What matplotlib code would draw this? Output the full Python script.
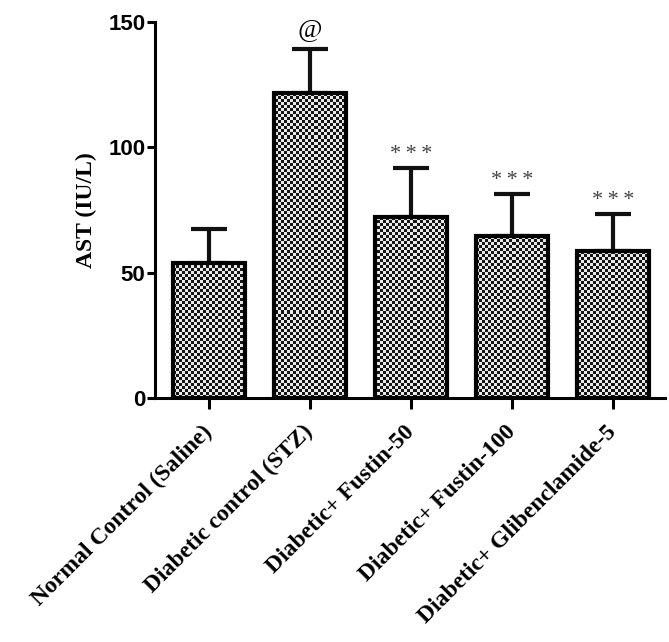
import numpy as np
import matplotlib
matplotlib.use("Agg")
import matplotlib.pyplot as plt

categories = ["Normal Control (Saline)", "Diabetic control (STZ)", "Diabetic+ Fustin-50",
              "Diabetic+ Fustin-100", "Diabetic+ Glibenclamide-5"]
means = [54.0, 121.7, 72.4, 64.6, 58.6]
sems = [13.5, 17.5, 19.3, 16.8, 14.8]
marks = ["", "@", "***", "***", "***"]
yticks = [0, 50, 100, 150]

W, H = 669, 642
fig = plt.figure(figsize=(W / 100, H / 100), dpi=100)
ax = fig.add_axes([155 / W, 1 - 398 / H, 510 / W, 376 / H])

x = np.arange(len(categories))
bars = ax.bar(x, means, width=0.72, facecolor="none", edgecolor="black", linewidth=3.0, zorder=3)
ax.errorbar(x, means, yerr=[np.zeros(len(sems)), sems], fmt="none", ecolor="#111111",
            elinewidth=3.0, capsize=13, capthick=3.0, zorder=2)

ax.set_xlim(-0.535, 4.515)
ax.set_ylim(0, 150)

# checkerboard fill, clipped to each bar
cell = 3
nx, ny = 510 // cell, 376 // cell
yy, xx = np.mgrid[0:ny, 0:nx]
checker = ((xx + yy) % 2).astype(float)
for b in bars:
    im = ax.imshow(checker, cmap="gray", vmin=-0.1, vmax=1.1, extent=[*ax.get_xlim(), *ax.get_ylim()],
                   interpolation="nearest", aspect="auto", zorder=2.5)
    im.set_clip_path(b)
ax.set_xlim(-0.535, 4.515)
ax.set_ylim(0, 150)

for xi, m, s, t in zip(x, means, sems, marks):
    if t == "@":
        ax.text(xi, m + s + 3, t, ha="center", va="bottom", fontsize=19, style="italic",
                family="Liberation Serif")
    elif t:
        ax.text(xi, m + s + 1.5, "\u2009".join(t), ha="center", va="bottom", fontsize=16,
                family=["Liberation Serif", "DejaVu Serif"], color="#444444")

for sp in ["top", "right"]:
    ax.spines[sp].set_visible(False)
for sp in ["left", "bottom"]:
    ax.spines[sp].set_linewidth(2.2)

ax.set_yticks(yticks)
ax.set_yticklabels([str(v) for v in yticks], fontsize=16, fontweight="bold", family="Liberation Sans")
ax.tick_params(axis="both", direction="out", length=6, width=2.2, color="black")
ax.tick_params(axis="y", pad=1)
ax.set_xticks(x)
ax.set_xticklabels(categories, rotation=45, ha="right", va="center", rotation_mode="anchor",
                   fontsize=17, fontweight="bold", family="Liberation Serif")
ax.tick_params(axis="x", length=8, pad=14)
ax.set_ylabel("AST (IU/L)", fontsize=17, fontweight="bold", family="Liberation Serif", labelpad=8)

fig.savefig("out.png", dpi=100)
